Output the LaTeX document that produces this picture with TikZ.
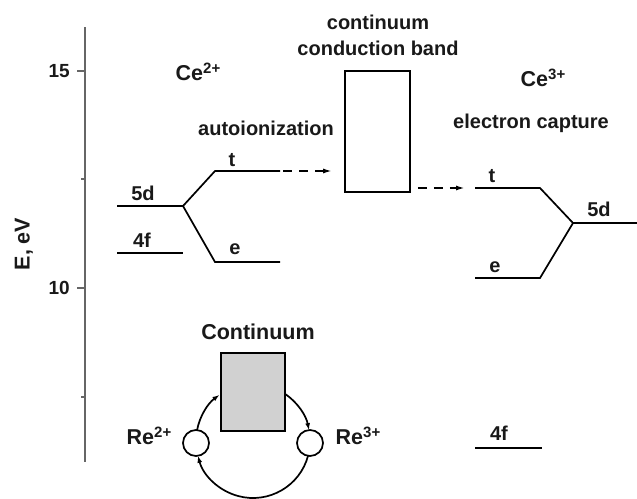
\documentclass[tikz,border=0pt]{standalone}
\usepackage{fontspec}
\setmainfont{Liberation Sans}
\usetikzlibrary{arrows.meta}
\newcommand\mysup[1]{\raisebox{7.5pt}{\fontsize{15}{15}\selectfont #1}}
\begin{document}
\begin{tikzpicture}[x=1pt,y=-1pt,
  lbl/.style={font=\bfseries\fontsize{20}{23}\selectfont, inner sep=0pt, text=black!90},
  ionlbl/.style={font=\bfseries\fontsize{21.5}{24}\selectfont, inner sep=0pt, text=black!90},
  ticklbl/.style={font=\bfseries\fontsize{19}{21}\selectfont, inner sep=0pt, anchor=east, text=black!90},
  lvl/.style={line width=1.7pt, line join=miter},
  dasharr/.style={line width=1.7pt, dash pattern=on 9pt off 7pt, -{Latex[length=9pt,width=5pt]}},
  cyc/.style={line width=1.7pt, -{Latex[length=7pt,width=5pt]}},
  axisline/.style={line width=1.8pt, draw=black!60},
  band/.style={draw, line width=1.7pt, minimum width=65pt, minimum height=121pt, inner sep=0pt},
  ion/.style={draw, circle, line width=1.7pt, minimum size=26pt, inner sep=0pt}]
\useasboundingbox (0,0) rectangle (637,498);

% axis
\coordinate (ax0) at (85,27);
\coordinate (ax1) at (85,462);
\draw[axisline] (ax0) -- (ax1);
\coordinate (t15) at (85,71);
\coordinate (t12) at (85,179);
\coordinate (t10) at (85,288);
\coordinate (t7) at (85,397);
\draw[axisline] (t15) -- ++(-8,0);
\draw[axisline] (t12) -- ++(-4,0);
\draw[axisline] (t10) -- ++(-8,0);
\draw[axisline] (t7) -- ++(-4,0);
\node[ticklbl] (n15) at (70,71) {15};
\node[ticklbl] (n10) at (70,288) {10};
\node[ionlbl, rotate=90] (ylab) at (24,244) {E, eV};

% titles
\node[ionlbl] (ce2) at (198,72) {Ce\mysup{2+}};
\node[lbl] (auto) at (266,128) {autoionization};
\node[lbl] (cont1) at (378,22) {continuum};
\node[lbl] (cont2) at (378,48) {conduction band};
\node[ionlbl] (ce3) at (543,78) {Ce\mysup{3+}};
\node[lbl] (ecap) at (531,123) {electron capture};

% Ce2+ levels
\coordinate (d5a) at (117,206);
\coordinate (d5b) at (183,206);
\coordinate (f4a) at (117,253);
\coordinate (f4b) at (183,253);
\coordinate (t1) at (215,171);
\coordinate (t2) at (280,171);
\coordinate (e1) at (215,262);
\coordinate (e2) at (280,262);
\draw[lvl] (d5a) -- (d5b);
\draw[lvl] (f4a) -- (f4b);
\draw[lvl] (d5b) -- (t1) -- (t2);
\draw[lvl] (d5b) -- (e1) -- (e2);
\node[lbl] (l5d) at (143,193) {5d};
\node[lbl] (l4f) at (142,240) {4f};
\node[lbl] (lt) at (232,160) {t};
\node[lbl] (le) at (235,249) {e};

% conduction band
\node[band] (cb) at (377.5,131.5) {};
\draw[dasharr, shorten <=3pt, shorten >=12pt] (t2) -- (cb.west |- t2);

% Ce3+ levels
\coordinate (rt1) at (475,188);
\coordinate (rt2) at (540,188);
\coordinate (r5d) at (573,223);
\coordinate (r5e) at (637,223);
\coordinate (re1) at (475,278);
\coordinate (re2) at (540,278);
\draw[lvl] (rt1) -- (rt2) -- (r5d) -- (r5e);
\draw[lvl] (re1) -- (re2) -- (r5d);
\draw[dasharr, shorten <=7pt, shorten >=10pt] (cb.east |- rt1) -- (rt1);
\node[lbl] (rlt) at (492,176) {t};
\node[lbl] (rle) at (495,267) {e};
\node[lbl] (rl5d) at (599,209) {5d};
\coordinate (rf1) at (475,448);
\coordinate (rf2) at (542,448);
\draw[lvl] (rf1) -- (rf2);
\node[lbl] (rl4f) at (499,433) {4f};

% continuum cycle
\node[ionlbl] (contb) at (258,332) {Continuum};
\node[draw, line width=1.7pt, fill=black!18, minimum width=64pt, minimum height=78pt, inner sep=0pt] (cbox) at (253,392) {};
\node[ion] (re2c) at (196,443) {};
\node[ion] (re3c) at (310,443) {};
\node[ionlbl] (re2l) at (149,436) {Re\mysup{2+}};
\node[ionlbl] (re3l) at (358,436) {Re\mysup{3+}};
\coordinate (C) at (253,441);
\draw[cyc] ([shift={(191:57)}]C) arc[start angle=191, end angle=234, radius=57];
\draw[cyc] ([shift={(305:57)}]C) arc[start angle=305, end angle=349, radius=57];
\draw[cyc] ([shift={(15:57)}]C) arc[start angle=15, end angle=165, radius=57];
\end{tikzpicture}
\end{document}
